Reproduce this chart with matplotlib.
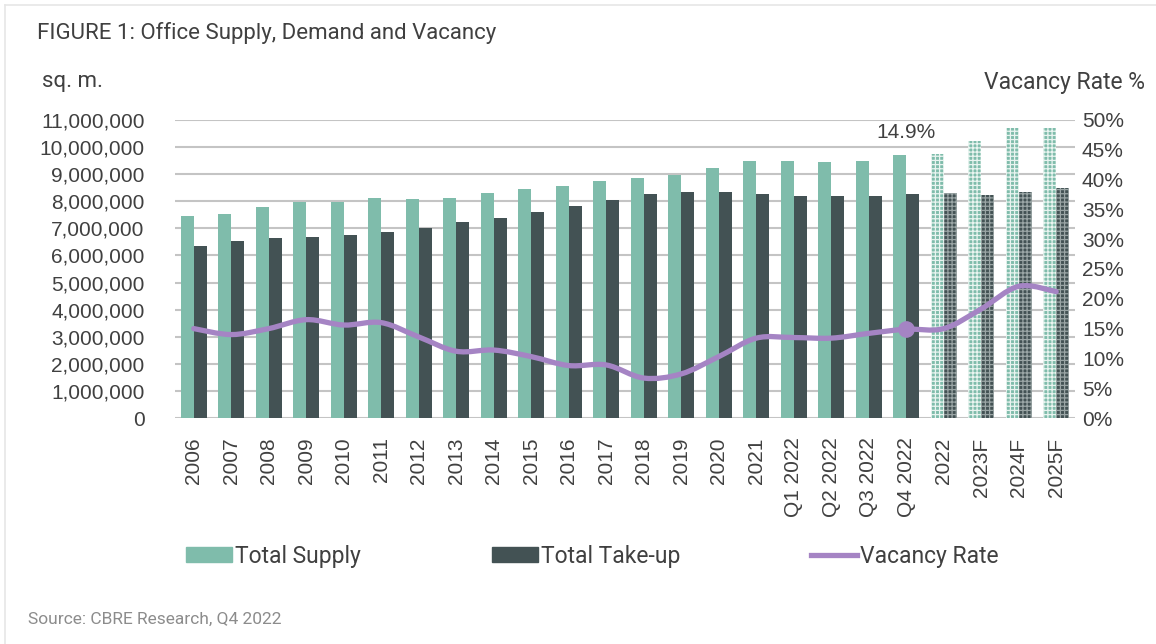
import numpy as np
import matplotlib
matplotlib.use("Agg")
import matplotlib.pyplot as plt
from matplotlib.path import Path
from matplotlib.patches import PathPatch, Patch
from matplotlib.lines import Line2D
from matplotlib.ticker import FuncFormatter

categories = ["2006", "2007", "2008", "2009", "2010", "2011", "2012", "2013",
              "2014", "2015", "2016", "2017", "2018", "2019", "2020", "2021",
              "Q1 2022", "Q2 2022", "Q3 2022", "Q4 2022", "2022", "2023F",
              "2024F", "2025F"]
total_supply = [7450000, 7540000, 7800000, 7980000, 7980000, 8120000, 8080000,
                8120000, 8310000, 8440000, 8550000, 8760000, 8870000, 8980000,
                9210000, 9490000, 9470000, 9450000, 9490000, 9700000, 9730000,
                10230000, 10690000, 10690000]
total_takeup = [6360000, 6530000, 6650000, 6690000, 6760000, 6850000, 7000000,
                7220000, 7400000, 7600000, 7820000, 8030000, 8250000, 8360000,
                8360000, 8250000, 8200000, 8200000, 8190000, 8250000, 8310000,
                8230000, 8360000, 8480000]
vacancy_rate = [15.0, 14.0, 15.0, 16.5, 15.6, 16.0, 13.6, 11.2, 11.4, 10.3,
                8.8, 8.9, 6.7, 7.4, 10.3, 13.4, 13.5, 13.4, 14.2, 14.9, 15.0,
                18.3, 22.1, 21.2]
forecast_from = 20  # index where the hatched (annual/forecast) bars start

GREEN = "#7fbcab"
DARK = "#435254"
PURPLE = "#a584c4"
TEXT = "#404040"
GRID = "#c4c4c4"

plt.rcParams["hatch.linewidth"] = 0.9

fig = plt.figure(figsize=(11.56, 6.44), dpi=100)
# thin page border, only left and top are visible in the screenshot
fig.add_artist(Line2D([5 / 1156, 5 / 1156], [0, 1 - 5 / 644],
                      transform=fig.transFigure, color="#e6e6e6", linewidth=1.2))
fig.add_artist(Line2D([5 / 1156, 1], [1 - 5 / 644, 1 - 5 / 644],
                      transform=fig.transFigure, color="#e6e6e6", linewidth=1.2))

ax = fig.add_axes([175 / 1156, 1 - 418 / 644, 900 / 1156, 298 / 644])
ax2 = ax.twinx()

x = np.arange(len(categories))
w = 0.35
for i in x:
    fc = i >= forecast_from
    ax.bar(i - w / 2, total_supply[i], w, color=GREEN, zorder=2,
           hatch="++++" if fc else None, edgecolor="#e9f4f0" if fc else GREEN,
           linewidth=0)
    ax.bar(i + w / 2, total_takeup[i], w, color=DARK, zorder=2,
           hatch="++++" if fc else None, edgecolor="#9aa5a5" if fc else DARK,
           linewidth=0)

ax.set_xlim(-0.5, len(categories) - 0.5)
ax.set_ylim(0, 11000000)
ax.set_yticks(np.arange(0, 11000001, 1000000))
ax.yaxis.set_major_formatter(FuncFormatter(lambda v, p: f"{int(v):,}"))
ax.grid(axis="y", color=GRID, linewidth=1.5, zorder=0)
ax.set_axisbelow(True)
ax.set_xticks(x)
ax.set_xticklabels(categories, rotation=90, va="top", ha="center")
ax.tick_params(axis="x", length=0, pad=14, labelsize=15, labelcolor=TEXT)
ax.tick_params(axis="y", length=0, pad=22, labelsize=15, labelcolor=TEXT)
for s in ax.spines.values():
    s.set_visible(False)
for s in ax2.spines.values():
    s.set_visible(False)

# smoothed vacancy line (cubic Bezier through the data points)
pts = np.column_stack([x, vacancy_rate]).astype(float)
verts = [tuple(pts[0])]
codes = [Path.MOVETO]
n = len(pts)
for i in range(n - 1):
    p0 = pts[max(i - 1, 0)]
    p1 = pts[i]
    p2 = pts[i + 1]
    p3 = pts[min(i + 2, n - 1)]
    c1 = p1 + (p2 - p0) / 6
    c2 = p2 - (p3 - p1) / 6
    verts += [tuple(c1), tuple(c2), tuple(p2)]
    codes += [Path.CURVE4] * 3
ax2.add_patch(PathPatch(Path(verts, codes), fill=False, edgecolor=PURPLE,
                        linewidth=3.8, capstyle="round", zorder=3))
ax2.plot(x[19], vacancy_rate[19], "o", color=PURPLE, markersize=11, zorder=4)
ax2.set_ylim(0, 50)
ax2.set_yticks(np.arange(0, 51, 5))
ax2.yaxis.set_major_formatter(FuncFormatter(lambda v, p: f"{int(v)}%"))
ax2.tick_params(axis="y", length=0, pad=5, labelsize=15, labelcolor=TEXT)

ax.text(x[19], 10550000, f"{vacancy_rate[19]}%", ha="center", va="center",
        fontsize=15, color=TEXT, family="Liberation Sans")

fig.text(37 / 1156, 1 - 33 / 644, "FIGURE 1: Office Supply, Demand and Vacancy",
         fontsize=16, color=TEXT, family="Roboto", va="center")
fig.text(42 / 1156, 1 - 82 / 644, "sq. m.", fontsize=16, color=TEXT,
         family="Roboto", va="center")
fig.text(1145 / 1156, 1 - 82 / 644, "Vacancy Rate %", fontsize=16.5,
         color=TEXT, family="Roboto", va="center", ha="right")
fig.text(28 / 1156, 1 - 619 / 644, "Source: CBRE Research, Q4 2022",
         fontsize=12.5, color="#8c8c8c", family="Roboto", va="center")

handles = [Patch(color=GREEN), Patch(color=DARK),
           Line2D([], [], color=PURPLE, linewidth=3.8)]
fig.legend(handles, ["Total Supply", "Total Take-up", "Vacancy Rate"],
           loc="center left", bbox_to_anchor=(186 / 1156, 1 - 556 / 644),
           ncol=3, frameon=False, handlelength=2.0, handleheight=0.62,
           handletextpad=0.15, columnspacing=5.7,
           prop={"family": "Roboto", "size": 16.5}, labelcolor=TEXT,
           borderaxespad=0, borderpad=0)

for lbl in ax.get_xticklabels() + ax.get_yticklabels() + ax2.get_yticklabels():
    lbl.set_family("Liberation Sans")

fig.savefig("out.png", dpi=100, facecolor="white")
